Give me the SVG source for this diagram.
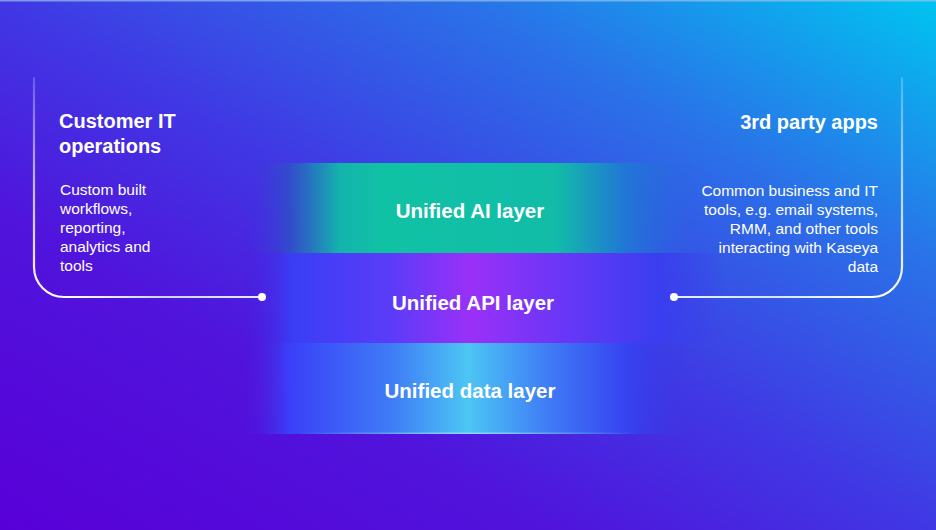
<svg xmlns="http://www.w3.org/2000/svg" width="936" height="530" viewBox="0 0 936 530">
<defs>
<linearGradient id="bg" x1="0" y1="1" x2="1" y2="0">
<stop offset="0" stop-color="#5800d8"/>
<stop offset="0.3" stop-color="#5014dc"/>
<stop offset="0.5" stop-color="#4038e4"/>
<stop offset="0.75" stop-color="#2a72e8"/>
<stop offset="1" stop-color="#00c4f0"/>
</linearGradient>
<linearGradient id="gAI" gradientUnits="userSpaceOnUse" x1="250" y1="0" x2="700" y2="0">
<stop offset="0" stop-color="#3a36d8" stop-opacity="0"/>
<stop offset="0.09" stop-color="#3050c8" stop-opacity="0.9"/>
<stop offset="0.2" stop-color="#14b4ac"/>
<stop offset="0.3" stop-color="#10c2a4"/>
<stop offset="0.68" stop-color="#12bca8"/>
<stop offset="0.83" stop-color="#2078d4"/>
<stop offset="1" stop-color="#2a62e0" stop-opacity="0"/>
</linearGradient>
<linearGradient id="gAPI" gradientUnits="userSpaceOnUse" x1="245" y1="0" x2="725" y2="0">
<stop offset="0" stop-color="#4a20e0" stop-opacity="0"/>
<stop offset="0.1" stop-color="#3a3ef6"/>
<stop offset="0.3" stop-color="#5a3cf8"/>
<stop offset="0.47" stop-color="#9a30f8"/>
<stop offset="0.7" stop-color="#6038f6"/>
<stop offset="0.86" stop-color="#3a3ef0"/>
<stop offset="1" stop-color="#3a40e8" stop-opacity="0"/>
</linearGradient>
<linearGradient id="gData" gradientUnits="userSpaceOnUse" x1="245" y1="0" x2="690" y2="0">
<stop offset="0" stop-color="#4a20e0" stop-opacity="0"/>
<stop offset="0.1" stop-color="#3a40f8"/>
<stop offset="0.33" stop-color="#3f7cf6"/>
<stop offset="0.5" stop-color="#4cc6f4"/>
<stop offset="0.68" stop-color="#3f7cf6"/>
<stop offset="0.86" stop-color="#3642f0"/>
<stop offset="1" stop-color="#3838e0" stop-opacity="0"/>
</linearGradient>
<linearGradient id="gVert" gradientUnits="userSpaceOnUse" x1="0" y1="76" x2="0" y2="297">
<stop offset="0" stop-color="#ffffff" stop-opacity="0.2"/>
<stop offset="0.5" stop-color="#e8ecff" stop-opacity="0.75"/>
<stop offset="1" stop-color="#ffffff" stop-opacity="1"/>
</linearGradient>
<linearGradient id="gHL" gradientUnits="userSpaceOnUse" x1="64" y1="0" x2="262" y2="0">
<stop offset="0" stop-color="#ffffff"/>
<stop offset="0.5" stop-color="#c8d4ff"/>
<stop offset="1" stop-color="#e6ecff"/>
</linearGradient>
<linearGradient id="gHR" gradientUnits="userSpaceOnUse" x1="872" y1="0" x2="674" y2="0">
<stop offset="0" stop-color="#ffffff"/>
<stop offset="0.5" stop-color="#cfe6ff"/>
<stop offset="1" stop-color="#e6f2ff"/>
</linearGradient>
<linearGradient id="gGlow" gradientUnits="userSpaceOnUse" x1="300" y1="0" x2="640" y2="0">
<stop offset="0" stop-color="#8ab8ff" stop-opacity="0"/>
<stop offset="0.5" stop-color="#9ad8ff" stop-opacity="0.9"/>
<stop offset="1" stop-color="#8ab8ff" stop-opacity="0"/>
</linearGradient>
</defs>
<style>
.title{font-family:"Liberation Sans",Arial,sans-serif;font-weight:bold;font-size:20px;fill:#ffffff}
.body{font-family:"Liberation Sans",Arial,sans-serif;font-size:15.5px;fill:#ffffff}
.layer{font-family:"Liberation Sans",Arial,sans-serif;font-weight:bold;font-size:20.5px;fill:#ffffff;text-anchor:middle}
.line{fill:none;stroke-width:2.2;stroke-linecap:round}
.dot{fill:#ffffff}
</style>
<rect x="0" y="0" width="936" height="530" fill="url(#bg)"/>
<rect x="0" y="0" width="936" height="1.5" fill="#9cc0ec" opacity="0.7"/>

<g id="ai-layer">
<rect x="250" y="163" width="450" height="90" fill="url(#gAI)"/>
<text class="layer" x="470" y="218">Unified AI layer</text>
</g>
<g id="api-layer">
<rect x="245" y="253" width="480" height="90" fill="url(#gAPI)"/>
<text class="layer" x="473" y="310">Unified API layer</text>
</g>
<g id="data-layer">
<rect x="245" y="343" width="445" height="91" fill="url(#gData)"/>
<rect x="300" y="432.5" width="340" height="1.5" fill="url(#gGlow)"/>
<text class="layer" x="470" y="398">Unified data layer</text>
</g>

<g id="connectors">
<path class="line" stroke="url(#gVert)" d="M34,78 V267 A30,30 0 0 0 64,297"/>
<path class="line" stroke="url(#gHL)" d="M64,297 H262"/>
<circle class="dot" cx="262" cy="297" r="4"/>
<path class="line" stroke="url(#gVert)" d="M902,78 V267 A30,30 0 0 1 872,297"/>
<path class="line" stroke="url(#gHR)" d="M872,297 H674"/>
<circle class="dot" cx="674" cy="297" r="4"/>
</g>

<g id="customer-it">
<text class="title" x="59" y="128">Customer IT</text>
<text class="title" x="59" y="153">operations</text>
<text class="body" x="60" y="195">Custom built</text>
<text class="body" x="60" y="214">workflows,</text>
<text class="body" x="60" y="233">reporting,</text>
<text class="body" x="60" y="252">analytics and</text>
<text class="body" x="60" y="271">tools</text>
</g>

<g id="third-party">
<text class="title" x="878" y="129" text-anchor="end">3rd party apps</text>
<g text-anchor="end">
<text class="body" x="878" y="196">Common business and IT</text>
<text class="body" x="878" y="215">tools, e.g. email systems,</text>
<text class="body" x="878" y="234">RMM, and other tools</text>
<text class="body" x="878" y="253">interacting with Kaseya</text>
<text class="body" x="878" y="272">data</text>
</g>
</g>
</svg>
